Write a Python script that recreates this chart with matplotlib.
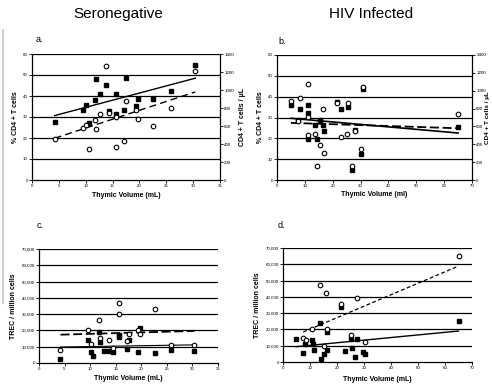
import matplotlib
matplotlib.use("Agg")
import matplotlib.pyplot as plt
import numpy as np
from matplotlib.ticker import FuncFormatter
from matplotlib.lines import Line2D

plt.rcParams['font.family'] = ['Liberation Sans', 'DejaVu Sans']

# seronegative: thymic volume (mL), % CD4 (squares), CD4 cells/uL (circles)
sn_vol = [4.2, 9.5, 10.1, 10.6, 11.7, 11.9, 12.7, 13.7, 14.4, 15.7, 15.7, 17.2, 17.5, 19.4, 19.8, 22.6, 25.8, 30.4]
sn_cd4_pct = [27.8, 33.3, 35.7, 27.1, 38.3, 47.9, 41.0, 45.2, 32.7, 40.8, 31.4, 33.3, 48.7, 35.2, 38.6, 38.6, 42.4, 54.8]
sn_cd4_abs = [453, 574, 611, 348, 667, 562, 733, 1267, 749, 364, 705, 434, 882, 777, 681, 600, 803, 1211]

# seronegative TREC
sn_trec_sq = [2400, 14300, 6900, 4500, 19000, 13100, 7300, 7100, 6500, 15900, 17200, 8600, 14300, 6900, 21600, 5900, 8000, 7600]
sn_trec_circ_vol = [4.2, 9.5, 10.1, 11.7, 11.9, 13.7, 14.4, 15.7, 15.7, 17.2, 17.5, 19.4, 19.8, 22.6, 25.8, 30.4]
sn_trec_circ = [7800, 20400, 11800, 26500, 15500, 13900, 9000, 36700, 30000, 13300, 17600, 20000, 17800, 32900, 11200, 10800]

# HIV infected, panel b
hiv_pct_vol = [5.0, 7.6, 8.3, 11.1, 11.1, 11.3, 13.8, 14.3, 15.5, 16.4, 16.7, 21.7, 23.1, 25.6, 27.0, 28.1, 30.1, 30.7, 65.0]
hiv_cd4_pct = [36.0, 28.8, 33.9, 32.3, 19.8, 35.8, 26.6, 19.7, 29.0, 26.6, 23.4, 37.6, 33.9, 35.2, 4.8, 24.2, 12.6, 43.5, 25.4]
hiv_abs_vol = [5.0, 7.5, 8.3, 11.1, 11.1, 11.2, 13.8, 14.3, 15.5, 16.4, 16.7, 21.7, 23.1, 25.2, 25.6, 27.0, 28.1, 30.1, 30.7, 65.0]
hiv_cd4_abs = [884, 665, 922, 705, 509, 1073, 520, 161, 394, 798, 308, 859, 478, 520, 861, 152, 553, 345, 1043, 735]

# HIV infected, panel d
hiv_trec_sq_vol = [4.8, 7.5, 8.1, 10.9, 11.0, 11.3, 13.7, 14.1, 15.3, 16.4, 16.4, 21.3, 22.8, 25.0, 25.4, 26.5, 27.5, 29.5, 30.2, 65.0]
hiv_trec_sq = [14300, 5700, 11300, 13300, 11300, 7600, 24200, 1800, 5100, 7200, 18400, 33800, 6800, 14300, 8600, 3100, 14300, 5900, 4700, 25200]
hiv_trec_circ_vol = [7.5, 8.4, 10.9, 13.7, 15.3, 16.0, 16.4, 21.3, 25.2, 27.3, 30.2, 65.0]
hiv_trec_circ = [15000, 13700, 20500, 47500, 9800, 42600, 20100, 35900, 16800, 39300, 12500, 65000]

W, H = 492, 384
fig = plt.figure(figsize=(W / 100, H / 100), dpi=100)


def box(x0, y0, x1, y1):
    return [x0 / W, 1 - y1 / H, (x1 - x0) / W, (y1 - y0) / H]


def style(ax, ymax, ystep, xmax, xstep):
    ax.set_xlim(0, xmax)
    ax.set_ylim(0, ymax)
    ax.set_xticks(np.arange(0, xmax + 1, xstep))
    ax.set_yticks(np.arange(0, ymax + 1, ystep))
    for y in np.arange(ystep, ymax + 1, ystep):
        ax.axhline(y, color='black', lw=0.9, zorder=1)
    ax.tick_params(labelsize=3.2, length=2, width=0.6, pad=1)
    for s in ['top', 'right']:
        ax.spines[s].set_visible(False)
    for s in ['left', 'bottom']:
        ax.spines[s].set_linewidth(0.9)


def fit(ax, x, y, ls, lw=1.0, dashes=None):
    m, b = np.polyfit(x, y, 1)
    xs = np.array([min(x), max(x)])
    ln, = ax.plot(xs, m * xs + b, color='black', lw=lw, ls=ls, zorder=3)
    if dashes:
        ln.set_dashes(dashes)


def squares(ax, x, y):
    ax.plot(x, y, 's', color='black', ms=3.4, zorder=4)


def circles(ax, x, y):
    ax.plot(x, y, 'o', mfc='white', mec='black', mew=0.8, ms=3.3, zorder=5)


def right_axis(ax):
    ax2 = ax.twinx()
    ax2.set_ylim(0, 1400)
    ax2.set_yticks(np.arange(0, 1401, 200))
    ax2.tick_params(labelsize=3.2, length=2, width=0.6, pad=1)
    for s in ['top', 'left', 'bottom']:
        ax2.spines[s].set_visible(False)
    ax2.spines['right'].set_linewidth(0.9)
    return ax2


lab = dict(fontsize=5, fontweight='bold')

# panel a
ax = fig.add_axes(box(32, 54, 220, 180))
style(ax, 60, 10, 35, 5)
ax2 = right_axis(ax)
squares(ax, sn_vol, sn_cd4_pct)
fit(ax, sn_vol, sn_cd4_pct, '-')
circles(ax2, sn_vol, sn_cd4_abs)
fit(ax2, sn_vol, sn_cd4_abs, '--', dashes=(5, 3))
ax.set_ylabel('% CD4 + T cells', labelpad=3, **lab)
ax2.set_ylabel('CD4 + T cells / µL', labelpad=4, **lab)
ax.set_xlabel('Thymic Volume (mL)', labelpad=3, **lab)

# panel b
ax = fig.add_axes(box(277, 55, 472, 180))
style(ax, 60, 10, 70, 10)
ax2 = right_axis(ax)
squares(ax, hiv_pct_vol, hiv_cd4_pct)
fit(ax, hiv_pct_vol, hiv_cd4_pct, '-', lw=1.2)
circles(ax2, hiv_abs_vol, hiv_cd4_abs)
fit(ax2, hiv_abs_vol, hiv_cd4_abs, '--', lw=1.3, dashes=(5, 2))
ax.set_ylabel('% CD4 + T cells', labelpad=3, **lab)
ax2.set_ylabel('CD4 + T cells / µL', fontsize=4.6, fontweight='bold', rotation=90, va='center')
ax2.yaxis.set_label_coords(1.077, 0.5)
ax.set_xlabel('Thymic Volume (ml)', labelpad=2, **lab)

comma = FuncFormatter(lambda v, p: f'{int(v):,}')

# panel c
ax = fig.add_axes(box(39, 249, 218, 363))
style(ax, 70000, 10000, 35, 5)
ax.yaxis.set_major_formatter(comma)
squares(ax, sn_vol, sn_trec_sq)
fit(ax, sn_vol, sn_trec_sq, '-', lw=0.8)
circles(ax, sn_trec_circ_vol, sn_trec_circ)
fit(ax, sn_trec_circ_vol, sn_trec_circ, '--', lw=1.3, dashes=(5, 2))
ax.set_ylabel('TREC / million cells', labelpad=3, **lab)
ax.set_xlabel('Thymic Volume (mL)', labelpad=3, **lab)

# panel d
ax = fig.add_axes(box(283, 248, 472, 362))
style(ax, 70000, 10000, 70, 10)
ax.yaxis.set_major_formatter(comma)
squares(ax, hiv_trec_sq_vol, hiv_trec_sq)
fit(ax, hiv_trec_sq_vol, hiv_trec_sq, '-')
circles(ax, hiv_trec_circ_vol, hiv_trec_circ)
fit(ax, hiv_trec_circ_vol, hiv_trec_circ, '--', lw=0.9, dashes=(3, 2))
ax.set_ylabel('TREC / million cells', labelpad=3, **lab)
ax.set_xlabel('Thymic Volume (mL)', labelpad=4, **lab)

# titles and panel letters
fig.text(118 / W, 1 - 14 / H, 'Seronegative', fontsize=11, ha='center', va='center')
fig.text(371 / W, 1 - 14 / H, 'HIV Infected', fontsize=11, ha='center', va='center')
for x, y, t in [(36, 40, 'a.'), (278, 41, 'b.'), (37, 225, 'c.'), (278, 225, 'd.')]:
    fig.text(x / W, 1 - y / H, t, fontsize=6.5, ha='left', va='center')

fig.add_artist(Line2D([2.5 / W, 2.5 / W], [1 - 30 / H, 1 - 303 / H], color='#cfcfcf', lw=1.5))

fig.savefig('out.png', dpi=100)
